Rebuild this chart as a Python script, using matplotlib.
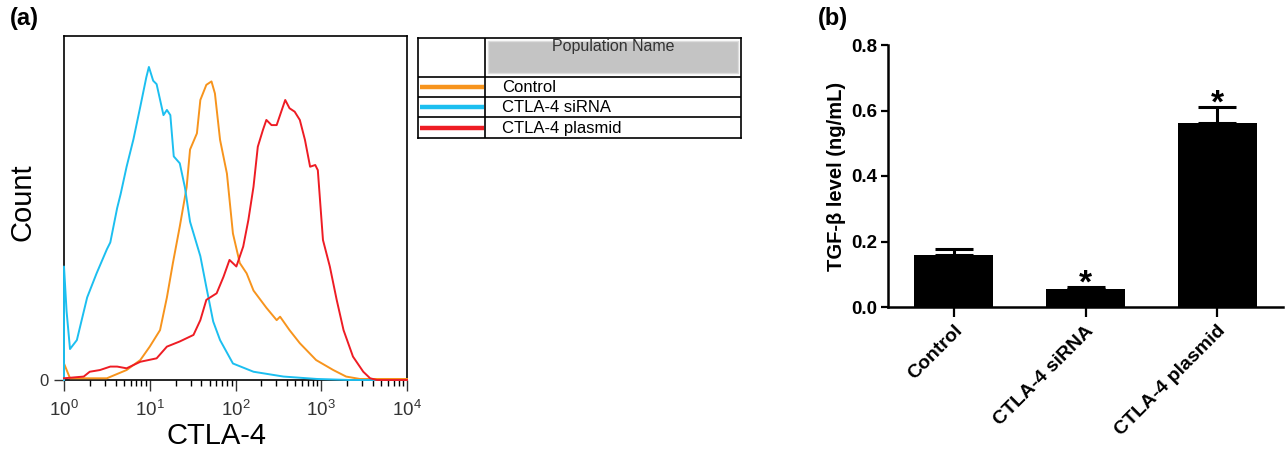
import numpy as np
import matplotlib.pyplot as plt
from matplotlib.patches import Rectangle

plt.rcParams['font.family'] = ['Liberation Sans', 'DejaVu Sans']

# (a) flow cytometry histograms: log10(CTLA-4 intensity) vs count (scale 0-100)
control_log = [0.0, 0.0, 0.07, 0.5, 0.73, 0.89, 1.0, 1.12, 1.2, 1.27, 1.35, 1.43, 1.47, 1.55,
               1.59, 1.66, 1.72, 1.76, 1.82, 1.9, 1.97, 2.05, 2.13, 2.21, 2.36, 2.48, 2.52,
               2.63, 2.75, 2.94, 3.14, 3.29, 3.45, 4.0]
control_count = [0, 4.8, 0.5, 0.5, 2.9, 5.8, 9.7, 14.5, 24, 34, 44.6, 56, 67, 71.7,
                 81.4, 85.8, 86.8, 83.3, 69.8, 60, 42.6, 34, 31, 26, 21, 17.4, 18.4,
                 14.5, 10.7, 5.8, 2.9, 1, 0.3, 0.3]

sirna_log = [0.0, 0.0, 0.03, 0.07, 0.15, 0.27, 0.38, 0.5, 0.54, 0.62, 0.66, 0.73, 0.81,
             0.89, 0.96, 0.99, 1.04, 1.08, 1.16, 1.2, 1.24, 1.28, 1.35, 1.41, 1.47, 1.59,
             1.66, 1.74, 1.82, 1.97, 2.21, 2.56, 2.95, 3.34, 4.0]
sirna_count = [0, 33, 20, 9, 11.6, 24, 31, 38, 40, 50, 54, 62, 70,
               79.5, 88, 91, 87, 86, 77, 78.5, 77, 65, 63, 56, 46, 36,
               27, 17, 11.6, 4.8, 2.4, 1, 0.3, 0, 0]

plasmid_log = [0.0, 0.23, 0.3, 0.42, 0.54, 0.62, 0.73, 0.89, 1.08, 1.2, 1.35, 1.51, 1.59,
               1.66, 1.78, 1.86, 1.93, 2.01, 2.09, 2.15, 2.21, 2.26, 2.32, 2.36, 2.42, 2.48,
               2.54, 2.58, 2.63, 2.69, 2.75, 2.81, 2.87, 2.93, 2.96, 3.02, 3.1, 3.18, 3.26,
               3.37, 3.49, 3.57, 3.65, 4.0]
plasmid_count = [0.5, 1, 2.4, 2.9, 3.9, 3.9, 3.4, 5.3, 6.3, 9.7, 11.2, 13.1, 17.4,
                 23.3, 25.2, 30, 34.9, 33, 38.8, 46.5, 56.2, 67.8, 72.7, 75.6, 74.1, 74.1,
                 78.5, 81.4, 79, 78, 75.6, 69.8, 62, 62.5, 61, 40.7, 33, 23.3, 14.5,
                 6.8, 2.4, 0.5, 0, 0]

series_names = ['Control', 'CTLA-4 siRNA', 'CTLA-4 plasmid']
series_colors = ['#f7941d', '#1cbff0', '#ee1c24']
series_logs = [control_log, sirna_log, plasmid_log]
series_counts = [control_count, sirna_count, plasmid_count]

# (b) TGF-beta ELISA
groups = ['Control', 'CTLA-4 siRNA', 'CTLA-4 plasmid']
tgf_mean = [0.159, 0.054, 0.563]
tgf_err = [0.017, 0.008, 0.049]
significant = [False, True, True]

W, H = 1287, 453
fig = plt.figure(figsize=(W / 100, H / 100), dpi=100)


def px_axes(x0, y0, x1, y1):
    return fig.add_axes([x0 / W, 1 - y1 / H, (x1 - x0) / W, (y1 - y0) / H])


# ---- panel (a) ----
ax1 = px_axes(64, 36, 407, 380)
for lg, ct, col in zip(series_logs, series_counts, series_colors):
    ax1.plot(10 ** np.array(lg), ct, color=col, lw=1.4, clip_on=False, zorder=3)
ax1.set_xscale('log')
ax1.set_xlim(1, 1e4)
ax1.set_ylim(0, 100)
ax1.set_yticks([0])
ax1.set_yticklabels(['0'])
ax1.tick_params(axis='y', length=7, width=1, direction='out', labelsize=12, pad=4, colors='#333333')
ax1.tick_params(axis='x', which='major', length=8, width=1, direction='out', labelsize=13.5,
                pad=6, colors='#333333')
ax1.tick_params(axis='x', which='minor', length=4, width=1, direction='out')
for s in ax1.spines.values():
    s.set_linewidth(1.2)
ax1.set_xlabel('CTLA-4', fontsize=21)
ax1.xaxis.set_label_coords(0.446, -0.122)
ax1.set_ylabel('Count', fontsize=21)
ax1.yaxis.set_label_coords(-0.079, 0.517)

# legend table
axl = px_axes(418, 38, 741, 138)
axl.set_xlim(0, 323)
axl.set_ylim(100, 0)
axl.set_xticks([])
axl.set_yticks([])
for s in axl.spines.values():
    s.set_linewidth(1.2)
axl.add_patch(Rectangle((70, 3), 250, 32, facecolor='#c4c4c4', edgecolor='#dddddd', lw=1))
axl.text(195, 9, 'Population Name', ha='center', va='center', fontsize=11.5, color='#333333')
axl.axvline(67, color='black', lw=1.2)
row_edges = [39, 59, 79, 100]
for i, (name, col) in enumerate(zip(series_names, series_colors)):
    axl.axhline(row_edges[i], color='black', lw=1.2)
    yc = (row_edges[i] + row_edges[i + 1]) / 2
    axl.plot([2, 66], [yc, yc], color=col, lw=3.2, solid_capstyle='butt')
    axl.text(84, yc + 0.5, name, ha='left', va='center', fontsize=12)

fig.text(10 / W, 1 - 18 / H, '(a)', fontsize=17, fontweight='bold', va='center')
fig.text(818 / W, 1 - 18 / H, '(b)', fontsize=17, fontweight='bold', va='center')

# ---- panel (b) ----
ax2 = px_axes(888, 45, 1283, 307)
x = np.arange(len(groups))
ax2.bar(x, tgf_mean, width=0.6, color='black')
ax2.errorbar(x, tgf_mean, yerr=[np.zeros(len(x)), tgf_err], fmt='none', ecolor='black',
             elinewidth=2.2, capsize=14, capthick=2.2)
for xi, m, e, sig in zip(x, tgf_mean, tgf_err, significant):
    if sig:
        ax2.annotate('*', xy=(xi, m + e), xytext=(0, -4), textcoords='offset points',
                     ha='center', va='baseline', fontsize=24, fontweight='bold')
ax2.set_xlim(-0.5, 2.5)
ax2.set_ylim(0, 0.8)
ax2.set_yticks([0.0, 0.2, 0.4, 0.6, 0.8])
ax2.set_yticklabels(['%.1f' % v for v in [0.0, 0.2, 0.4, 0.6, 0.8]], fontweight='bold', fontsize=13.5)
ax2.set_xticks(x)
ax2.set_xticklabels(groups, rotation=45, ha='right', va='top', rotation_mode='anchor',
                    fontweight='bold', fontsize=14)
ax2.tick_params(axis='y', length=5, width=1.6, pad=3)
ax2.tick_params(axis='x', length=7, width=1.6, pad=4)
ax2.spines['top'].set_visible(False)
ax2.spines['right'].set_visible(False)
ax2.spines['left'].set_linewidth(1.8)
ax2.spines['bottom'].set_linewidth(1.8)
ax2.set_ylabel('TGF-β level (ng/mL)', fontsize=14.5, fontweight='bold')
ax2.yaxis.set_label_coords(-0.106, 0.5)

fig.savefig('out.png', dpi=100)
